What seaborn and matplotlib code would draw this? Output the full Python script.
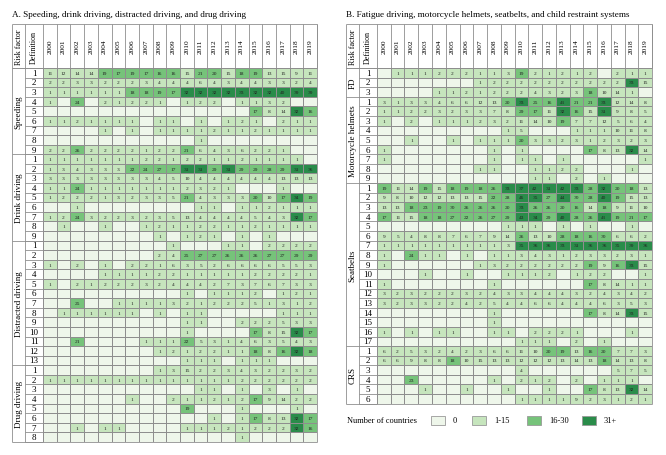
import numpy as np
import matplotlib
matplotlib.use('Agg')
import matplotlib.pyplot as plt
import seaborn as sns
from matplotlib.colors import ListedColormap, BoundaryNorm
from matplotlib.patches import Rectangle

plt.rcParams['font.family'] = ['Liberation Serif', 'DejaVu Serif']

years = ['2000', '2001', '2002', '2003', '2004', '2005', '2006', '2007', '2008', '2009',
         '2010', '2011', '2012', '2013', '2014', '2015', '2016', '2017', '2018', '2019']

# ---- panel A ----
speeding = [
    [11, 12, 14, 14, 19, 17, 19, 17, 16, 16, 15, 21, 20, 15, 18, 19, 13, 15, 9, 11],
    [2, 2, 3, 3, 2, 2, 2, 3, 4, 4, 4, 6, 4, 3, 4, 4, 3, 3, 2, 4],
    [1, 1, 1, 1, 1, 1, 18, 18, 19, 17, 32, 32, 32, 32, 33, 32, 32, 40, 39, 39],
    [1, 0, 24, 0, 2, 1, 2, 2, 1, 0, 1, 2, 2, 0, 1, 1, 3, 2, 0, 0],
    [0, 0, 0, 0, 0, 0, 0, 0, 0, 0, 0, 0, 0, 0, 0, 17, 8, 14, 32, 16],
    [1, 1, 2, 1, 1, 1, 1, 0, 1, 1, 0, 1, 0, 1, 2, 1, 0, 2, 1, 1],
    [0, 0, 0, 0, 1, 0, 1, 0, 1, 1, 1, 1, 2, 1, 1, 2, 1, 1, 1, 1],
    [0, 0, 0, 0, 0, 0, 0, 0, 0, 0, 0, 1, 0, 0, 0, 0, 0, 0, 0, 0],
    [2, 2, 26, 2, 2, 2, 2, 1, 2, 2, 21, 6, 4, 3, 6, 2, 2, 1, 0, 0],
]
drink = [
    [1, 1, 1, 1, 1, 1, 1, 2, 2, 1, 2, 2, 1, 1, 2, 1, 1, 1, 1, 0],
    [1, 3, 4, 3, 3, 3, 22, 24, 27, 17, 31, 31, 29, 31, 29, 29, 28, 29, 31, 36],
    [3, 3, 3, 3, 3, 3, 3, 3, 4, 5, 10, 4, 4, 4, 4, 4, 4, 13, 13, 13],
    [1, 1, 24, 1, 1, 1, 1, 1, 1, 1, 2, 3, 2, 1, 0, 0, 0, 1, 0, 0],
    [1, 2, 2, 2, 1, 3, 2, 3, 3, 5, 21, 4, 3, 3, 3, 20, 10, 17, 34, 19],
    [0, 0, 1, 0, 0, 0, 0, 0, 0, 0, 0, 1, 1, 0, 1, 1, 2, 1, 1, 1],
    [1, 2, 24, 3, 2, 2, 3, 2, 3, 5, 13, 4, 4, 4, 4, 5, 4, 3, 32, 17],
    [0, 1, 0, 0, 1, 0, 0, 1, 2, 1, 1, 2, 2, 1, 1, 2, 1, 1, 1, 1],
    [0, 0, 0, 0, 0, 0, 0, 0, 1, 0, 1, 2, 1, 0, 1, 0, 1, 0, 0, 0],
]
distracted = [
    [0, 0, 0, 0, 0, 0, 0, 0, 0, 1, 0, 0, 0, 1, 1, 0, 2, 2, 2, 2],
    [0, 0, 0, 0, 0, 0, 0, 0, 2, 4, 25, 27, 27, 26, 26, 26, 27, 27, 29, 29],
    [1, 0, 2, 0, 1, 0, 2, 2, 1, 6, 3, 5, 2, 6, 6, 6, 6, 5, 5, 3],
    [0, 0, 0, 0, 1, 1, 1, 1, 2, 2, 1, 1, 1, 1, 1, 2, 2, 2, 2, 1],
    [1, 0, 2, 1, 2, 2, 2, 3, 2, 4, 4, 4, 2, 7, 3, 7, 6, 7, 3, 3],
    [0, 0, 0, 0, 0, 0, 0, 0, 0, 0, 1, 0, 1, 1, 1, 2, 0, 1, 2, 1],
    [0, 0, 25, 0, 0, 1, 1, 1, 1, 3, 2, 1, 2, 2, 2, 5, 1, 3, 1, 2],
    [0, 1, 1, 1, 1, 1, 1, 0, 1, 0, 1, 1, 0, 0, 0, 0, 0, 1, 1, 1],
    [0, 0, 0, 0, 0, 0, 0, 0, 0, 0, 1, 1, 0, 0, 2, 2, 2, 5, 3, 3],
    [0, 0, 0, 0, 0, 0, 0, 0, 0, 0, 1, 0, 0, 0, 0, 17, 8, 15, 32, 17],
    [0, 0, 21, 0, 0, 0, 0, 1, 1, 1, 22, 5, 3, 1, 4, 6, 3, 5, 4, 3],
    [0, 0, 0, 0, 0, 0, 0, 0, 1, 2, 1, 2, 2, 1, 1, 18, 8, 16, 32, 18],
    [0, 0, 0, 0, 0, 0, 0, 0, 0, 0, 1, 1, 1, 0, 1, 1, 1, 0, 0, 0],
]
drug = [
    [0, 0, 0, 0, 0, 0, 0, 0, 1, 3, 15, 2, 2, 3, 4, 3, 2, 2, 3, 2],
    [1, 1, 1, 1, 1, 1, 1, 1, 1, 1, 1, 1, 1, 1, 2, 2, 2, 2, 2, 2],
    [0, 0, 0, 0, 0, 0, 0, 0, 0, 0, 0, 1, 1, 0, 1, 0, 3, 0, 1, 0],
    [0, 0, 0, 0, 0, 0, 1, 0, 0, 2, 1, 1, 2, 1, 2, 17, 9, 14, 2, 2],
    [0, 0, 0, 0, 0, 0, 0, 0, 0, 0, 19, 0, 0, 0, 1, 0, 0, 0, 1, 0],
    [0, 0, 0, 0, 0, 0, 0, 0, 0, 0, 0, 0, 1, 0, 1, 17, 8, 13, 32, 17],
    [0, 0, 1, 0, 1, 1, 0, 0, 0, 0, 1, 1, 1, 2, 1, 2, 2, 2, 32, 16],
    [0, 0, 0, 0, 0, 0, 0, 0, 0, 0, 0, 0, 0, 0, 1, 0, 0, 0, 0, 0],
]

# ---- panel B ----
fatigue = [
    [0, 1, 1, 1, 2, 2, 2, 1, 1, 3, 19, 2, 1, 2, 1, 2, 0, 2, 1, 1],
    [0, 0, 0, 0, 0, 0, 0, 1, 2, 2, 2, 2, 2, 2, 2, 2, 2, 2, 33, 15],
    [0, 0, 0, 0, 1, 1, 2, 1, 2, 2, 2, 4, 3, 2, 3, 18, 10, 14, 1, 0],
]
helmets = [
    [3, 1, 3, 3, 4, 6, 6, 12, 13, 20, 33, 25, 16, 41, 21, 21, 33, 12, 14, 8],
    [1, 1, 2, 2, 3, 2, 3, 3, 7, 8, 29, 17, 11, 32, 16, 15, 31, 9, 8, 5],
    [1, 0, 2, 0, 1, 1, 1, 2, 3, 2, 11, 14, 10, 19, 7, 7, 12, 5, 6, 4],
    [0, 0, 0, 0, 0, 0, 0, 0, 0, 1, 5, 0, 0, 0, 1, 1, 1, 10, 11, 8],
    [0, 0, 1, 0, 0, 1, 0, 1, 1, 1, 20, 3, 3, 2, 3, 1, 2, 3, 2, 3],
    [1, 0, 0, 0, 0, 0, 0, 0, 1, 0, 1, 0, 0, 0, 0, 17, 8, 13, 32, 14],
    [1, 0, 0, 0, 0, 0, 0, 0, 1, 0, 1, 1, 0, 1, 0, 0, 0, 0, 0, 1],
    [0, 0, 0, 0, 0, 0, 0, 1, 1, 0, 0, 1, 1, 2, 2, 0, 0, 0, 1, 0],
    [0, 0, 0, 0, 0, 0, 0, 0, 0, 0, 0, 1, 1, 0, 2, 0, 1, 0, 0, 0],
]
seatbelts = [
    [19, 11, 14, 19, 15, 18, 19, 18, 26, 33, 37, 42, 31, 42, 33, 28, 32, 20, 18, 13],
    [9, 8, 10, 12, 12, 13, 13, 15, 22, 28, 46, 35, 27, 44, 30, 28, 40, 19, 15, 13],
    [13, 13, 18, 23, 19, 30, 26, 26, 26, 20, 33, 26, 26, 20, 16, 14, 18, 9, 11, 10],
    [17, 11, 15, 18, 18, 27, 22, 26, 27, 29, 43, 34, 29, 40, 28, 26, 41, 19, 21, 17],
    [0, 0, 0, 0, 0, 0, 0, 0, 0, 1, 1, 1, 0, 1, 0, 1, 0, 0, 1, 0],
    [9, 5, 4, 8, 8, 7, 6, 7, 9, 14, 26, 13, 10, 28, 18, 16, 30, 6, 6, 2],
    [1, 1, 1, 1, 1, 1, 1, 1, 1, 3, 35, 36, 36, 33, 31, 36, 36, 35, 39, 36],
    [1, 0, 24, 1, 1, 0, 1, 0, 1, 1, 3, 4, 3, 1, 2, 3, 3, 2, 3, 1],
    [1, 0, 0, 0, 0, 0, 0, 1, 3, 2, 2, 2, 2, 2, 2, 19, 9, 16, 33, 15],
    [0, 0, 0, 1, 0, 0, 1, 0, 0, 1, 1, 1, 2, 0, 1, 2, 2, 0, 0, 1],
    [1, 0, 0, 0, 0, 0, 0, 0, 1, 0, 0, 0, 0, 0, 0, 17, 8, 14, 1, 1],
    [3, 2, 3, 2, 2, 2, 3, 2, 4, 3, 3, 4, 4, 4, 3, 2, 4, 3, 4, 2],
    [3, 2, 3, 3, 2, 2, 4, 2, 5, 4, 4, 6, 6, 4, 4, 4, 6, 3, 5, 3],
    [0, 0, 0, 0, 0, 0, 0, 0, 1, 0, 0, 0, 0, 0, 0, 17, 8, 14, 33, 15],
    [0, 0, 0, 0, 0, 0, 0, 0, 1, 0, 0, 0, 0, 0, 0, 0, 0, 0, 0, 0],
    [1, 0, 1, 0, 1, 1, 0, 0, 1, 1, 0, 2, 2, 2, 1, 0, 0, 0, 1, 0],
    [0, 0, 0, 0, 0, 0, 0, 0, 0, 0, 1, 1, 1, 0, 2, 0, 1, 0, 0, 0],
]
crs = [
    [6, 2, 5, 3, 2, 4, 2, 3, 6, 6, 11, 10, 20, 19, 13, 16, 20, 7, 7, 3],
    [6, 6, 9, 8, 8, 18, 10, 15, 13, 13, 12, 12, 12, 13, 14, 13, 18, 14, 13, 8],
    [0, 0, 0, 0, 0, 0, 0, 0, 0, 0, 4, 0, 0, 0, 0, 0, 0, 5, 7, 5],
    [0, 0, 23, 0, 0, 0, 0, 0, 1, 0, 2, 1, 2, 0, 2, 0, 1, 1, 1, 0],
    [0, 0, 0, 1, 0, 0, 1, 0, 0, 1, 0, 0, 1, 0, 0, 17, 8, 13, 32, 14],
    [0, 0, 0, 0, 0, 0, 0, 0, 0, 0, 1, 1, 1, 1, 9, 2, 3, 1, 2, 1],
]

bin_labels = ['0', '1-15', '16-30', '31+']
bin_colors = ['#eef6ea', '#c6e5bd', '#76c37a', '#2a8c4a']
cmap = ListedColormap(bin_colors)
norm = BoundaryNorm([-0.5, 0.5, 15.5, 30.5, 1000], 4)
GRID = '#8e8e8e'

W, H = 666, 456
ROW_H = 9.59
TOP = 69
HEAD = 44 / ROW_H
DEF = 1.3
RISK = 2.25

fig = plt.figure(figsize=(6.66, 4.56), dpi=100)


def draw_panel(groups, names, left_px, right_px, title):
    data = np.vstack([np.array(g) for g in groups])
    n = data.shape[0]
    ax = fig.add_axes([left_px / W, 1 - (TOP + n * ROW_H) / H,
                       (right_px - left_px) / W, n * ROW_H / H])
    labels = np.where(data > 0, data.astype(str), '')
    sns.heatmap(data, ax=ax, cmap=cmap, norm=norm, annot=labels, fmt='',
                cbar=False, linewidths=0.6, linecolor=GRID,
                xticklabels=False, yticklabels=False,
                annot_kws=dict(fontsize=3.9, color='#222222'))
    lk = dict(colors=GRID, linewidth=0.6, clip_on=False)
    ax.hlines(np.arange(n + 1), -DEF, 0, **lk)
    ax.vlines(np.arange(21), -HEAD, 0, **lk)
    ax.vlines([-DEF, -RISK], -HEAD, n, **lk)
    ax.hlines([-HEAD, 0, n], -RISK, 20, **lk)
    ax.vlines(20, -HEAD, n, **lk)

    start = 0
    for g, name in zip(groups, names):
        ax.hlines(start, -RISK, 0, **lk)
        for i in range(len(g)):
            ax.text(-DEF / 2, start + i + 0.5, str(i + 1), ha='center', va='center',
                    fontsize=6.5, clip_on=False)
        ax.text(-(RISK + DEF) / 2, start + len(g) / 2, name, rotation=90,
                ha='center', va='center', fontsize=6.5, clip_on=False)
        start += len(g)

    for j, y in enumerate(years):
        ax.text(j + 0.5, -HEAD / 2, y, rotation=90, ha='center', va='center',
                fontsize=5.3, clip_on=False)
    ax.text(-(RISK + DEF) / 2, -HEAD / 2, 'Risk factor', rotation=90,
            ha='center', va='center', fontsize=5.8, clip_on=False)
    ax.text(-DEF / 2, -HEAD / 2, 'Definition', rotation=90,
            ha='center', va='center', fontsize=5.8, clip_on=False)
    fig.text((left_px - RISK * (right_px - left_px) / 20) / W, 1 - 15 / H, title,
             fontsize=6.6, ha='left', va='center')
    return ax


draw_panel([speeding, drink, distracted, drug],
           ['Speeding', 'Drink driving', 'Distracted driving', 'Drug driving'],
           43, 317, 'A. Speeding, drink driving, distracted driving, and drug driving')
draw_panel([fatigue, helmets, seatbelts, crs],
           ['FD', 'Motorcycle helmets', 'Seatbelts', 'CRS'],
           377, 652, 'B. Fatigue driving, motorcycle helmets, seatbelts, and child restraint systems')

# legend
fig.text(347 / W, 1 - 421 / H, 'Number of countries', fontsize=6, va='center')
box_x = [431, 472, 527, 582]
for bx, lab, col in zip(box_x, bin_labels, bin_colors):
    fig.patches.append(Rectangle((bx / W, 1 - 425.5 / H), 14 / W, 9 / H,
                                 transform=fig.transFigure, facecolor=col,
                                 edgecolor='#999999', linewidth=0.6))
    fig.text((bx + 22) / W, 1 - 421 / H, lab, fontsize=6, va='center')

fig.savefig('out.png', dpi=100)
